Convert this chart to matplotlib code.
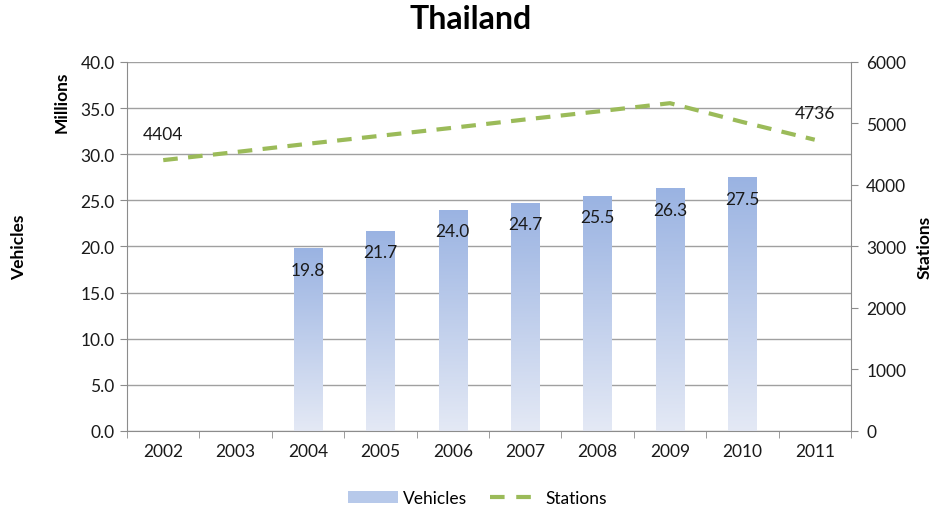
import numpy as np
import matplotlib
matplotlib.use("Agg")
import matplotlib.pyplot as plt
from matplotlib.patches import Rectangle
from matplotlib.lines import Line2D
from matplotlib.colors import LinearSegmentedColormap

plt.rcParams['font.family'] = ['Lato', 'DejaVu Sans']

years = ['2002', '2003', '2004', '2005', '2006', '2007', '2008', '2009', '2010', '2011']
vehicles = [None, None, 19.8, 21.7, 24.0, 24.7, 25.5, 26.3, 27.5, None]
stations = [4404, 4535, 4670, 4800, 4930, 5065, 5195, 5330, 5025, 4736]
station_labels = {0: 4404, 9: 4736}

FS = 12.5

fig = plt.figure(figsize=(9.32, 5.10), dpi=100)
ax = fig.add_axes([0.1363, 0.153, 0.913 - 0.1363, 0.8765 - 0.153])
ax2 = ax.twinx()

x = np.arange(len(years))
ax.set_xlim(-0.5, len(years) - 0.5)
ax.set_ylim(0, 40)
ax2.set_ylim(0, 6000)

# gridlines
ax.set_yticks(np.arange(0, 40.1, 5))
ax.yaxis.grid(True, color='#a0a0a0', linewidth=1.0)
ax.set_axisbelow(True)

grad = LinearSegmentedColormap.from_list('bar', ['#E4E9F5', '#9AB3E2'])
gimg = np.linspace(0, 1, 256).reshape(-1, 1)
bw = 0.39
for xi, v in zip(x, vehicles):
    if v is None:
        continue
    rect = Rectangle((xi - bw / 2, 0), bw, v, facecolor='none', edgecolor='none')
    ax.add_patch(rect)
    im = ax.imshow(gimg, cmap=grad, origin='lower', aspect='auto',
                   extent=(xi - bw / 2, xi + bw / 2, 0, v), zorder=2)
    im.set_clip_path(rect)
    ax.text(xi, v - 2.3, f'{v:.1f}', ha='center', va='center', fontsize=FS,
            color='#1a1a1a', zorder=5)

ax.set_xlim(-0.5, len(years) - 0.5)
ax.set_ylim(0, 40)

ax2.plot(x, stations, color='#9BBB59', linewidth=3.0, linestyle=(0, (3.5, 2.5)),
         zorder=4)
for i, s in station_labels.items():
    ax2.annotate(str(s), (x[i], s), xytext=(0, 19), textcoords='offset points',
                 ha='center', va='center', fontsize=FS, color='#1a1a1a')
ax2.set_yticks(np.arange(0, 6001, 1000))

# axis styling
for a in (ax, ax2):
    a.spines['top'].set_visible(False)
    a.spines['left'].set_color('#8c8c8c')
    a.spines['right'].set_color('#8c8c8c')
    a.spines['bottom'].set_color('#8c8c8c')
ax.spines['right'].set_visible(False)
ax2.spines['left'].set_visible(False)
ax2.spines['bottom'].set_visible(False)

ax.set_yticklabels([f'{v:.1f}' for v in np.arange(0, 40.1, 5)])
ax.tick_params(axis='y', length=5, color='#8c8c8c', labelsize=FS, labelcolor='#1a1a1a', pad=4)
ax2.tick_params(axis='y', length=5, color='#8c8c8c', labelsize=FS, labelcolor='#1a1a1a', pad=6)

ax.set_xticks(x)
ax.set_xticklabels(years)
ax.tick_params(axis='x', length=0, labelsize=FS, labelcolor='#1a1a1a', pad=9)
ax.set_xticks(np.arange(-0.5, len(years), 1), minor=True)
ax.tick_params(axis='x', which='minor', length=5, color='#8c8c8c')

fig.text(0.505, 0.962, 'Thailand', ha='center', va='center', fontsize=23,
         fontweight='bold', color='#000000')
fig.text(0.066, 0.80, 'Millions', rotation=90, ha='center', va='center',
         fontsize=12.5, fontweight='bold')
fig.text(0.02, 0.515, 'Vehicles', rotation=90, ha='center', va='center',
         fontsize=12.5, fontweight='bold')
fig.text(0.992, 0.515, 'Stations', rotation=90, ha='center', va='center',
         fontsize=12.5, fontweight='bold')

# legend: the line key shows two dashes followed by a blank stretch
handles = [Rectangle((0, 0), 1, 1, facecolor='#B7C9EA', edgecolor='none'),
           Line2D([], [], color='#9BBB59', linewidth=3.0,
                  linestyle=(0, (3.5, 2.8, 3.5, 30)))]
fig.legend(handles, ['Vehicles', 'Stations'], loc='center', bbox_to_anchor=(0.512, 0.022),
           ncol=2, frameon=False, fontsize=FS, handlelength=2.9, columnspacing=1.3,
           handletextpad=0.3)

fig.savefig('out.png', dpi=100)
